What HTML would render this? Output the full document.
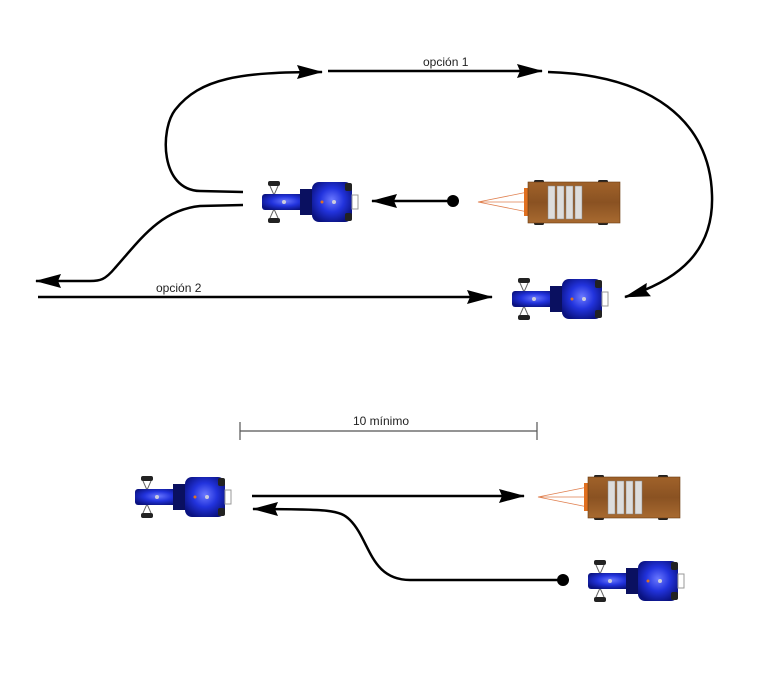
<!DOCTYPE html>
<html><head><meta charset="utf-8"><style>
html,body{margin:0;padding:0;background:#fff;}
svg{display:block}
text{font-family:"Liberation Sans",sans-serif;font-size:12px;fill:#222}
</style></head><body>
<svg width="778" height="675" viewBox="0 0 778 675" xmlns="http://www.w3.org/2000/svg">
<defs>
<radialGradient id="bl" cx="0.5" cy="0.45" r="0.6">
<stop offset="0" stop-color="#6a78ff"/><stop offset="0.5" stop-color="#2233dd"/><stop offset="1" stop-color="#0a1280"/></radialGradient>
<linearGradient id="wd" x1="0" y1="0" x2="0" y2="1">
<stop offset="0" stop-color="#a0622a"/><stop offset="0.5" stop-color="#8a5222"/><stop offset="1" stop-color="#a86a30"/></linearGradient>
<marker id="ah" viewBox="0 0 26 14" refX="25" refY="7" markerWidth="26" markerHeight="14" markerUnits="userSpaceOnUse" orient="auto">
<path d="M0,0 L26,7 L0,14 L3,7 z" fill="#000"/></marker>
<g id="tr">
<rect x="6" y="0" width="12" height="5" rx="2" fill="#222"/>
<rect x="6" y="37" width="12" height="5" rx="2" fill="#222"/>
<path d="M8,5 L12,14 L16,5 M8,37 L12,28 L16,37" stroke="#666" fill="none"/>
<rect x="0" y="13" width="46" height="16" rx="3" fill="url(#bl)"/>
<rect x="38" y="8" width="16" height="26" fill="#0a1060"/>
<rect x="50" y="1" width="40" height="40" rx="7" fill="url(#bl)"/>
<rect x="83" y="2" width="7" height="8" rx="2" fill="#222"/>
<rect x="83" y="32" width="7" height="8" rx="2" fill="#222"/>
<rect x="90" y="14" width="6" height="14" fill="none" stroke="#999"/>
<circle cx="60" cy="21" r="1.5" fill="#e07020"/>
<circle cx="22" cy="21" r="2" fill="#ccd"/>
<circle cx="72" cy="21" r="2" fill="#ccd"/>
</g>
<g id="tl">
<path d="M0,22 L50,12 L50,32 Z M0,22 L50,22" stroke="#e08050" stroke-width="0.8" fill="none"/>
<rect x="46" y="8" width="5" height="28" fill="#e07020"/>
<rect x="56" y="0" width="10" height="4" rx="1.5" fill="#222"/>
<rect x="120" y="0" width="10" height="4" rx="1.5" fill="#222"/>
<rect x="56" y="41" width="10" height="4" rx="1.5" fill="#222"/>
<rect x="120" y="41" width="10" height="4" rx="1.5" fill="#222"/>
<rect x="50" y="2" width="92" height="41" fill="url(#wd)" stroke="#6a3a10" stroke-width="0.6"/>
<rect x="70" y="6" width="7" height="33" fill="#ddd" stroke="#888" stroke-width="0.5"/>
<rect x="79" y="6" width="7" height="33" fill="#ddd" stroke="#888" stroke-width="0.5"/>
<rect x="88" y="6" width="7" height="33" fill="#ddd" stroke="#888" stroke-width="0.5"/>
<rect x="97" y="6" width="7" height="33" fill="#ddd" stroke="#888" stroke-width="0.5"/>
</g>
</defs>
<g fill="none" stroke="#000" stroke-width="2.5">
<path d="M243,192 L200,191 C160,190 160,130 175,110 C200,78 240,72 322,72" marker-end="url(#ah)"/>
<path d="M328,71 L542,71" marker-end="url(#ah)"/>
<path d="M548,72 C650,75 710,120 712,195 C714,250 680,280 625,297" marker-end="url(#ah)"/>
<path d="M243,205 L200,206 C160,210 140,240 115,268 C105,280 100,281 90,281 L36,281" marker-end="url(#ah)"/>
<path d="M38,297 L492,297" marker-end="url(#ah)"/>
<path d="M453,201 L372,201" marker-end="url(#ah)"/>
<path d="M252,496 L524,496" marker-end="url(#ah)"/>
<path d="M563,580 L410,580 C370,580 370,540 350,520 C340,510 330,509 253,509" marker-end="url(#ah)"/>
</g>
<circle cx="453" cy="201" r="6" fill="#000"/>
<circle cx="563" cy="580" r="6" fill="#000"/>
<g stroke="#555" stroke-width="1.2"><path d="M240,431 L537,431 M240,422 L240,440 M537,422 L537,440"/></g>
<text x="423" y="66">opción 1</text>
<text x="156" y="292">opción 2</text>
<text x="353" y="425">10 mínimo</text>
<use href="#tr" x="262" y="181"/>
<use href="#tr" x="512" y="278"/>
<use href="#tr" x="135" y="476"/>
<use href="#tr" x="588" y="560"/>
<use href="#tl" x="478" y="180"/>
<use href="#tl" x="538" y="475"/>
</svg>
</body></html>
